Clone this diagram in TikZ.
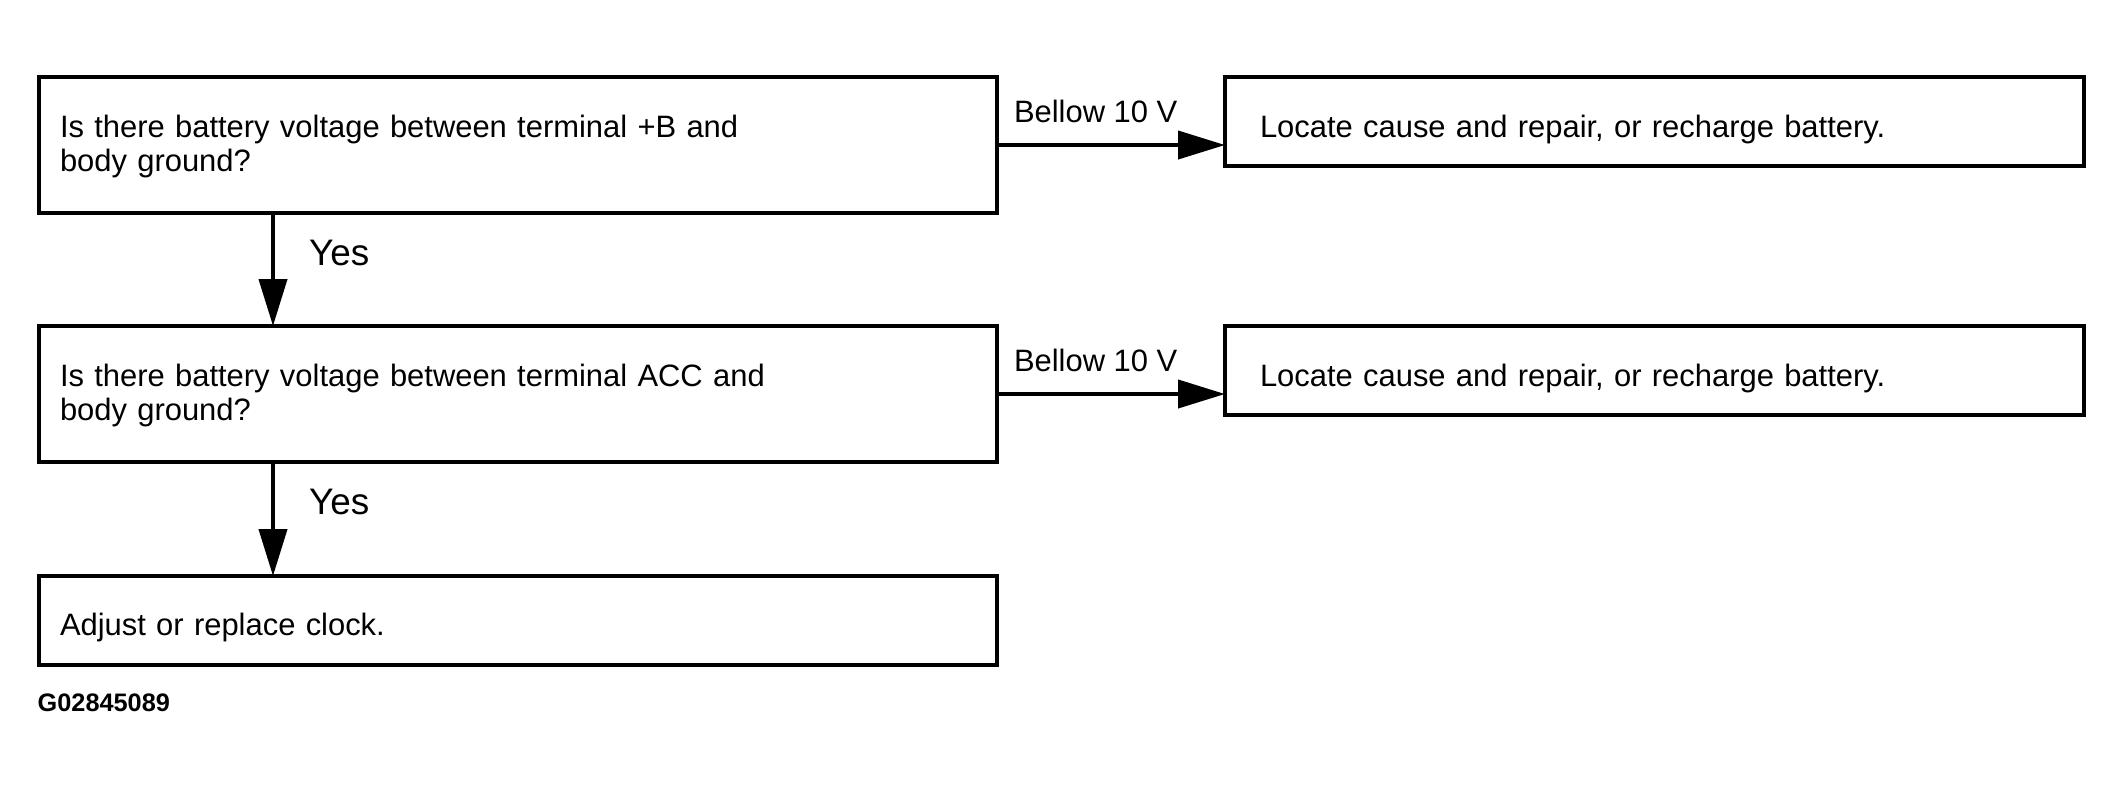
\documentclass[tikz,border=0pt]{standalone}
\usepackage{fontspec}
\setmainfont{Liberation Sans}
\usepackage{tikz}
\usetikzlibrary{positioning, arrows.meta, calc}

\begin{document}
\begin{tikzpicture}[
      node distance = 1.13cm and 2.28cm,
      every node/.style = {font=\fontsize{8.8}{9.8}\selectfont},
      basebox/.style = {draw, line width=1.15pt, outer sep=0pt, inner ysep=0pt,
                        align=left, text height=0.6cm, text depth=0.29cm},
      qbox/.style = {basebox, text width=9.16cm, inner xsep=0.21cm, text depth=0.76cm},
      rbox/.style = {basebox, text width=7.89cm, inner xsep=0.35cm},
      ebox/.style = {basebox, text width=9.16cm, inner xsep=0.21cm,
                     text height=0.59cm, text depth=0.30cm},
      lbl/.style = {inner sep=0pt, pos=0, anchor=base west},
      arr/.style = {-{Triangle[length=0.47cm, width=0.28cm]}, line width=1.15pt},
      yes/.style = {lbl, font=\fontsize{10.5}{12}\selectfont}
    ]
    \useasboundingbox (0,0) rectangle (21.24,-7.87);
    \node[qbox, anchor=north west] (vb) at (0.39,-0.77)
      {Is there battery voltage between terminal +B and\\body ground?};
    \node[rbox, right=of vb.north east, anchor=north west] (fixb)
      {Locate cause and repair, or recharge battery.};
    \node[qbox, below=of vb] (vacc)
      {Is there battery voltage between terminal ACC and\\body ground?};
    \node[rbox, right=of vacc.north east, anchor=north west] (fixacc)
      {Locate cause and repair, or recharge battery.};
    \node[ebox, below=1.14cm of vacc] (clock) {Adjust or replace clock.};
    \node[inner sep=0pt, anchor=base west, font=\bfseries\fontsize{7.2}{8}\selectfont] (fig) at (0.37,-7.11) {G02845089};
    % connectors
    \coordinate (d1) at ($(vb.south west)+(2.34,0)$);
    \coordinate (d2) at ($(vacc.south west)+(2.34,0)$);
    \draw[arr] (vb.east) -- node[lbl, shift={(0.15,0.23)}] {Bellow 10 V} (vb.east -| fixb.west);
    \draw[arr] (vacc.east) -- node[lbl, shift={(0.15,0.23)}] {Bellow 10 V} (vacc.east -| fixacc.west);
    \draw[arr] (d1) -- node[yes, shift={(0.34,-0.52)}] {Yes} (d1 |- vacc.north);
    \draw[arr] (d2) -- node[yes, shift={(0.34,-0.52)}] {Yes} (d2 |- clock.north);
  \end{tikzpicture}
\end{document}
